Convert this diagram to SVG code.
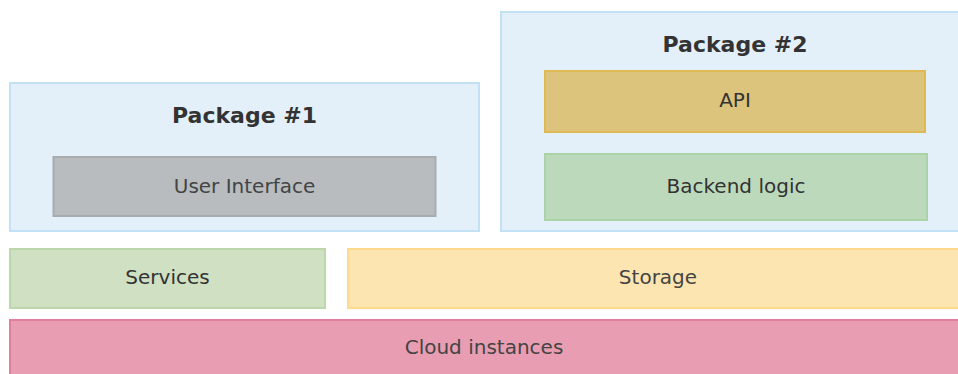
<svg xmlns="http://www.w3.org/2000/svg" width="958" height="374" viewBox="0 0 958 374">
<style>
  .box { stroke-width: 2; }
  .pkg { fill: #e3f0f9; stroke: #c3e1f5; }
  .title { font-family: "DejaVu Sans", Verdana, sans-serif; font-weight: bold; font-size: 22px; fill: #333333; text-anchor: middle; }
  .lbl { font-family: "DejaVu Sans", Verdana, sans-serif; font-size: 20px; fill: #333333; text-anchor: middle; dominant-baseline: central; }
  .grey { fill: #444444; }
</style>
<rect width="958" height="374" fill="#ffffff"/>
<g id="package1">
  <rect class="box pkg" x="10" y="83" width="469" height="148"/>
  <text class="title" x="244.5" y="123">Package #1</text>
</g>
<g id="user-interface">
  <rect class="box" x="53.5" y="157" width="382" height="59" fill="#b8bcbf" stroke="#a8acaf"/>
  <text class="lbl grey" x="244.5" y="186">User Interface</text>
</g>
<g id="package2">
  <rect class="box pkg" x="501" y="12" width="468" height="219"/>
  <text class="title" x="735" y="52">Package #2</text>
</g>
<g id="api">
  <rect class="box" x="545" y="71" width="380" height="61" fill="#dcc47d" stroke="#dfb952"/>
  <text class="lbl" x="735" y="100">API</text>
</g>
<g id="backend-logic">
  <rect class="box" x="545" y="154" width="382" height="66" fill="#bcd9bc" stroke="#acd2a8"/>
  <text class="lbl" x="736" y="186">Backend logic</text>
</g>
<g id="services">
  <rect class="box" x="10" y="249" width="315" height="59" fill="#cfe0c3" stroke="#bdd7ad"/>
  <text class="lbl" x="167.5" y="277">Services</text>
</g>
<g id="storage">
  <rect class="box" x="348" y="249" width="620" height="59" fill="#fce5b0" stroke="#fcd98c"/>
  <text class="lbl grey" x="658" y="277">Storage</text>
</g>
<g id="cloud-instances">
  <rect class="box" x="10" y="320" width="958" height="70" fill="#e99db2" stroke="#e07f9b"/>
  <text class="lbl grey" x="484" y="347">Cloud instances</text>
</g>
<g id="connectors"></g>
</svg>
